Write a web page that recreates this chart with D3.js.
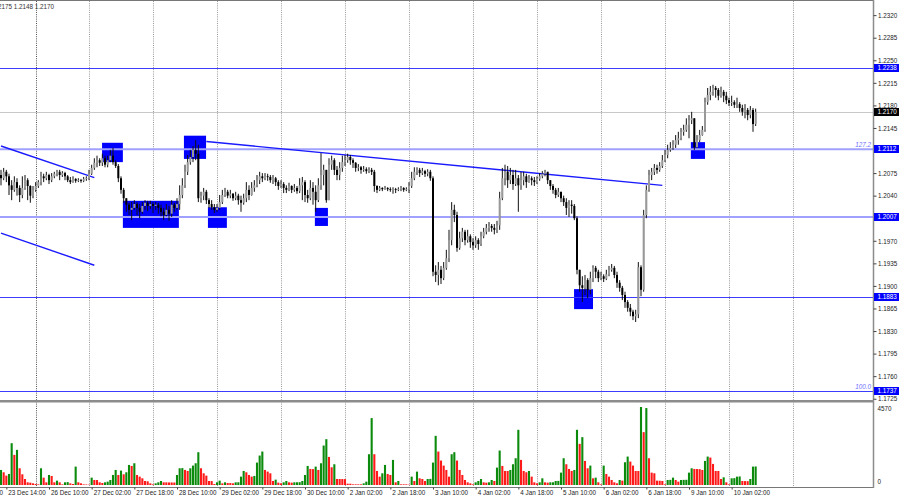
<!DOCTYPE html>
<html>
<head>
<meta charset="utf-8">
<script src="https://cdn.jsdelivr.net/npm/d3@7"></script>
<style>
  body { margin: 0; background: #fff; }
  svg { display: block; }
  text { font-family: "Liberation Sans", Arial, sans-serif; font-size: 6.3px; fill: #222; }
</style>
</head>
<body>
<svg id="chart" width="900" height="500"></svg>
<script>
// H1 candles, prices in points (x 1/10000), open = previous close
var firstOpen = 12072;
var closes = [
  12067,12077,12070,12056,12049,12061,12052,12041,12052,12064,
  12055,12040,12049,12055,12061,12070,12067,12072,12064,12070,
  12074,12077,12072,12075,12070,12064,12061,12066,12063,12064,
  12063,12066,12067,12074,12083,12091,12095,12091,12098,12088,
  12095,12102,12092,12086,12067,12049,12036,12026,12018,12021,
  12027,12021,12015,12024,12029,12024,12027,12024,12026,12021,
  12015,12010,12018,12012,12026,12021,12027,12041,12056,12077,
  12092,12100,12111,12105,12036,12040,12046,12033,12027,12022,
  12018,12021,12030,12041,12046,12040,12043,12036,12040,12033,
  12029,12036,12049,12041,12052,12056,12064,12070,12067,12070,
  12069,12064,12067,12061,12055,12058,12052,12049,12055,12049,
  12052,12047,12056,12061,12041,12036,12052,12046,12033,12056,
  12072,12080,12033,12088,12095,12080,12072,12083,12092,12095,
  12100,12095,12091,12083,12084,12080,12081,12078,12080,12077,
  12055,12049,12052,12050,12052,12050,12049,12050,12049,12050,
  12052,12049,12050,12055,12067,12077,12080,12075,12078,12074,
  12077,12067,11922,11917,11925,11912,11928,11943,11971,12018,
  12010,11959,11974,11984,11971,11977,11968,11963,11971,11965,
  11977,11984,11990,11993,11990,11987,11994,12036,12067,12077,
  12064,12072,12058,12067,12056,12064,12070,12061,12067,12064,
  12061,12066,12070,12074,12077,12064,12055,12049,12041,12046,
  12036,12030,12021,12026,12024,12005,11925,11901,11897,11909,
  11894,11912,11928,11922,11912,11915,11911,11918,11925,11928,
  11917,11905,11897,11886,11875,11866,11860,11853,11856,11929,
  11894,12010,12049,12072,12077,12083,12080,12086,12095,12103,
  12111,12114,12119,12126,12129,12139,12142,12150,12157,12160,
  12115,12126,12134,12142,12185,12196,12201,12207,12204,12195,
  12201,12195,12188,12184,12185,12181,12182,12176,12170,12173,
  12165,12173,12151,12170
];
var highs = [
  12080,12083,12080,12074,12064,12070,12067,12056,12070,12072,
  12067,12056,12055,12061,12064,12077,12074,12077,12074,12075,
  12077,12080,12080,12078,12077,12072,12069,12070,12067,12067,
  12066,12069,12070,12080,12088,12098,12102,12098,12105,12102,
  12102,12111,12114,12095,12089,12070,12052,12036,12029,12030,
  12033,12030,12027,12030,12033,12032,12032,12030,12030,12029,
  12026,12021,12027,12024,12033,12029,12036,12056,12067,12088,
  12103,12111,12117,12126,12119,12046,12052,12049,12036,12033,
  12027,12027,12041,12049,12052,12049,12049,12044,12046,12043,
  12040,12043,12061,12056,12061,12064,12072,12077,12075,12075,
  12074,12072,12072,12069,12064,12064,12061,12056,12060,12056,
  12058,12055,12067,12069,12064,12049,12064,12061,12056,12067,
  12106,12088,12080,12098,12102,12098,12086,12092,12102,12103,
  12105,12103,12098,12092,12089,12086,12086,12084,12084,12083,
  12080,12056,12055,12053,12055,12053,12053,12053,12052,12053,
  12055,12053,12053,12061,12077,12084,12084,12083,12083,12080,
  12081,12080,12070,11932,11937,11931,11937,11956,11987,12030,
  12026,12015,11984,11990,11987,11987,11980,11974,11977,11974,
  11984,11990,11996,11999,11996,11996,12001,12046,12083,12088,
  12086,12083,12080,12080,12072,12077,12077,12074,12072,12070,
  12069,12070,12075,12078,12080,12077,12064,12058,12052,12052,
  12046,12040,12036,12033,12033,12027,12008,11925,11915,11917,
  11912,11922,11932,11931,11925,11922,11918,11925,11931,11934,
  11931,11922,11909,11900,11891,11878,11872,11863,11863,11937,
  11932,12018,12056,12080,12083,12089,12088,12092,12103,12111,
  12119,12123,12126,12134,12139,12145,12150,12160,12165,12170,
  12160,12134,12142,12148,12192,12207,12210,12212,12210,12207,
  12209,12204,12201,12192,12195,12188,12192,12185,12181,12182,
  12176,12179,12176,12175
];
var lows = [
  12056,12064,12061,12041,12033,12046,12040,12030,12036,12049,
  12033,12029,12036,12046,12052,12056,12061,12064,12058,12061,
  12067,12070,12064,12069,12064,12061,12058,12060,12060,12061,
  12060,12061,12063,12064,12072,12080,12084,12086,12086,12084,
  12084,12092,12088,12083,12061,12043,12029,12015,12010,12002,
  12018,12010,12005,12012,12018,12016,12019,12013,12018,12012,
  12008,12002,12008,12001,12007,12015,12018,12018,12036,12052,
  12072,12088,12092,12095,12030,12029,12033,12027,12021,12018,
  12013,12015,12018,12027,12038,12036,12036,12032,12033,12026,
  12015,12026,12030,12033,12040,12046,12053,12058,12061,12064,
  12063,12060,12058,12055,12049,12052,12044,12044,12047,12044,
  12046,12043,12044,12033,12030,12029,12033,12026,12015,12030,
  12049,12056,12029,12033,12080,12072,12064,12064,12077,12086,
  12091,12088,12083,12077,12078,12074,12077,12074,12075,12072,
  12046,12044,12047,12047,12049,12047,12046,12043,12044,12047,
  12047,12046,12047,12044,12052,12064,12072,12069,12072,12069,
  12070,12063,11915,11906,11901,11903,11909,11925,11937,11963,
  11999,11953,11956,11968,11963,11967,11959,11956,11959,11956,
  11962,11974,11980,11984,11984,11980,11982,11987,12033,12056,
  12052,12058,12049,12055,12015,12049,12056,12052,12060,12056,
  12055,12058,12063,12067,12070,12058,12049,12043,12036,12038,
  12030,12024,12010,12007,12012,12002,11918,11891,11875,11886,
  11881,11887,11906,11912,11906,11909,11906,11909,11915,11922,
  11912,11897,11891,11878,11866,11860,11853,11847,11844,11850,
  11884,11891,12005,12046,12064,12072,12074,12077,12083,12092,
  12098,12108,12111,12114,12119,12126,12133,12139,12129,12151,
  12111,12114,12123,12133,12139,12181,12188,12195,12192,12188,
  12192,12185,12182,12179,12179,12176,12176,12170,12164,12160,
  12157,12160,12139,12148
];
var volumes = [
  882,745,549,647,2450,1764,2058,980,627,353,
  157,137,98,59,40,980,431,157,588,529,
  157,255,157,39,157,170,98,59,1078,157,
  98,39,30,20,431,294,290,157,118,157,
  196,294,588,882,588,843,627,745,1176,1117,
  1274,588,490,392,235,215,98,39,98,157,
  235,157,155,150,150,145,588,980,990,882,
  823,980,1137,1274,1921,980,686,549,235,230,
  59,157,255,98,157,118,115,98,157,160,
  490,823,745,588,490,529,1313,1725,1960,882,
  784,686,235,314,137,98,157,235,157,137,
  157,160,165,235,588,1117,941,930,1078,882,
  1274,2313,2685,1646,1039,1215,353,350,350,345,
  78,75,39,39,39,39,98,196,1803,3920,
  1803,823,490,686,1176,647,588,1470,157,235,
  39,39,39,20,490,235,784,392,353,235,
  353,360,1313,2881,1960,1431,1137,882,490,1803,
  1921,1431,882,588,294,157,98,39,157,235,
  353,157,137,157,294,235,1019,2019,1117,823,
  820,882,1215,1568,3234,1470,823,745,823,490,
  157,98,157,392,157,137,157,160,235,240,
  725,1568,1215,941,823,882,3234,2411,2803,1411,
  980,1137,392,431,157,39,1137,647,490,294,
  157,98,294,255,1333,1666,1372,1137,823,820,
  4570,3097,4508,1568,725,686,255,250,235,39,
  294,300,431,294,196,294,300,305,725,980,
  941,935,930,882,1411,1666,1607,1235,823,820,
  353,451,157,39,392,400,490,500,235,230,
  225,353,1078,1085
];

// time axis: bar index of each label
var timeBars = [-14, 2, 18, 34, 50, 66, 82, 98, 114, 130, 146, 162, 178, 194, 210, 226, 242, 258, 274];
var timeLabels = ["22 Dec 22:00", "23 Dec 14:00", "26 Dec 10:00", "27 Dec 02:00", "27 Dec 18:00",
  "28 Dec 10:00", "29 Dec 02:00", "29 Dec 18:00", "30 Dec 10:00", "2 Jan 02:00", "2 Jan 18:00",
  "3 Jan 10:00", "4 Jan 02:00", "4 Jan 18:00", "5 Jan 10:00", "6 Jan 02:00", "6 Jan 18:00",
  "9 Jan 10:00", "10 Jan 02:00"];
var separatorBars = [13, 33, 57, 81, 105, 129, 153, 177, 201, 225, 249, 273, 297];

// 1.2110 and 1.2005 sit under the level boxes, so they are left out
var priceTicks = [1.2320, 1.2285, 1.2250, 1.2215, 1.2180, 1.2145, 1.2075, 1.2040,
  1.1970, 1.1935, 1.1900, 1.1865, 1.1830, 1.1795, 1.1760, 1.1725];
var volumeTicks = [4570, 0];

var levels = [1.2238, 1.1883, 1.1737];     // plain horizontal lines
var fibLevels = [1.2112, 1.2007];          // light wide lines
var levelNotes = [[1.2112, "127.2"], [1.1737, "100.0"]];
var lastPrice = 1.2170;
var headerText = "1.2151 1.2175 1.2148 1.2170";

// trend lines: [bar0, price0, bar1, price1]
var trendLines = [
  [0, 1.2117, 35, 1.2068],
  [0, 1.1982, 35, 1.1932],
  [77, 1.2124, 248, 1.2056]
];
// marked zones: [bar0, bar1, priceTop, priceBottom]
var zones = [
  [37.9, 45.7, 1.2122, 1.2092],
  [68.6, 76.9, 1.2133, 1.2097],
  [45.7, 66.7, 1.2032, 1.1990],
  [77.6, 84.7, 1.2022, 1.1990],
  [117.7, 122.6, 1.2021, 1.1993],
  [214.9, 222.0, 1.1895, 1.1864],
  [258.7, 264.0, 1.2123, 1.2097]
];

var plotRight = 873;
var mainBottom = 400;
var volTop = 403, volBottom = 487;

var svg = d3.select("#chart");

var x = d3.scaleLinear().domain([0, 300]).range([1, 801]);
var y = d3.scaleLinear().domain([1.1737, 1.2238]).range([391, 68]);
var yv = d3.scaleLinear().domain([0, 4570]).range([485, 407]);

var bars = closes.map(function(c, i) {
    var o = i === 0 ? firstOpen : closes[i - 1];
    return {
        i: i,
        o: o / 10000,
        c: c / 10000,
        h: Math.max(highs[i], o, c) / 10000,
        l: Math.min(lows[i], o, c) / 10000,
        v: volumes[i],
        up: i === 0 ? true : volumes[i] > volumes[i - 1]
    };
});

var defs = svg.append("defs");
defs.append("clipPath").attr("id", "mainClip")
    .append("rect").attr("x", 0).attr("y", 0).attr("width", plotRight).attr("height", mainBottom);
defs.append("clipPath").attr("id", "volClip")
    .append("rect").attr("x", 0).attr("y", volTop).attr("width", plotRight).attr("height", volBottom - volTop);

// period separators (dotted verticals)
svg.append("g").selectAll("line")
    .data(separatorBars)
    .enter().append("line")
    .attr("x1", d => Math.round(x(d)) + 0.5)
    .attr("x2", d => Math.round(x(d)) + 0.5)
    .attr("y1", 1)
    .attr("y2", volBottom)
    .attr("stroke", (d, i) => i === 0 ? "#555" : "#9a9a9a")
    .attr("stroke-width", 1)
    .attr("stroke-dasharray", "1,1.2");

var main = svg.append("g").attr("clip-path", "url(#mainClip)");

// current price line
main.append("line")
    .attr("x1", 0).attr("x2", plotRight)
    .attr("y1", Math.round(y(lastPrice)) + 0.5).attr("y2", Math.round(y(lastPrice)) + 0.5)
    .attr("stroke", "#c8c8c8");

// zones
main.selectAll(".zone")
    .data(zones)
    .enter().append("rect")
    .attr("class", "zone")
    .attr("x", d => x(d[0]))
    .attr("width", d => x(d[1]) - x(d[0]))
    .attr("y", d => y(d[2]))
    .attr("height", d => y(d[3]) - y(d[2]))
    .attr("fill", "#0000ff");

// horizontal levels
main.selectAll(".fib")
    .data(fibLevels)
    .enter().append("line")
    .attr("class", "fib")
    .attr("x1", 0).attr("x2", plotRight)
    .attr("y1", d => y(d)).attr("y2", d => y(d))
    .attr("stroke", "#a0a0ff")
    .attr("stroke-width", 2);

main.selectAll(".lvl")
    .data(levels)
    .enter().append("line")
    .attr("class", "lvl")
    .attr("x1", 0).attr("x2", plotRight)
    .attr("y1", d => Math.round(y(d)) + 0.5).attr("y2", d => Math.round(y(d)) + 0.5)
    .attr("stroke", "#3c3cff")
    .attr("stroke-width", 1);

main.selectAll(".note")
    .data(levelNotes)
    .enter().append("text")
    .attr("class", "note")
    .attr("x", 871)
    .attr("y", d => y(d[0]) - 2.5)
    .attr("text-anchor", "end")
    .style("fill", "#7070ff")
    .style("font-style", "italic")
    .text(d => d[1]);

// trend lines
main.selectAll(".trend")
    .data(trendLines)
    .enter().append("line")
    .attr("class", "trend")
    .attr("x1", d => x(d[0])).attr("y1", d => y(d[1]))
    .attr("x2", d => x(d[2])).attr("y2", d => y(d[3]))
    .attr("stroke", "#1a1aff")
    .attr("stroke-width", 1.4);

// candles
var candle = main.selectAll(".candle")
    .data(bars)
    .enter().append("g")
    .attr("class", "candle");

candle.append("line")
    .attr("x1", d => x(d.i)).attr("x2", d => x(d.i))
    .attr("y1", d => y(d.h)).attr("y2", d => y(d.l))
    .attr("stroke", "#111")
    .attr("stroke-width", 1);

candle.append("rect")
    .attr("x", d => x(d.i) - 1)
    .attr("width", 2)
    .attr("y", d => y(Math.max(d.o, d.c)))
    .attr("height", d => Math.max(0.8, Math.abs(y(d.o) - y(d.c))))
    .attr("fill", d => d.c >= d.o ? "#999" : "#000");

// volumes
var vol = svg.append("g").attr("clip-path", "url(#volClip)");
vol.selectAll("rect")
    .data(bars)
    .enter().append("rect")
    .attr("x", d => x(d.i) - 1.05)
    .attr("width", 2.1)
    .attr("y", d => yv(d.v))
    .attr("height", d => yv(0) - yv(d.v))
    .attr("fill", d => d.up ? "#0b8a0b" : "#ff1a1a");

// frame
svg.append("line").attr("x1", 0).attr("x2", plotRight).attr("y1", 0.5).attr("y2", 0.5)
    .attr("stroke", "#777");
svg.append("rect").attr("x", 0).attr("y", mainBottom).attr("width", plotRight).attr("height", 2.5)
    .attr("fill", "#8c8c8c");
svg.append("line").attr("x1", 0).attr("x2", plotRight + 1).attr("y1", volBottom + 0.5).attr("y2", volBottom + 0.5)
    .attr("stroke", "#777");
svg.append("line").attr("x1", plotRight + 0.5).attr("x2", plotRight + 0.5).attr("y1", 0).attr("y2", volBottom + 1)
    .attr("stroke", "#8c8c8c").attr("stroke-width", 1.5);

// price axis
var priceAxis = svg.append("g")
    .attr("transform", "translate(" + (plotRight + 0.5) + ",0)")
    .call(d3.axisRight(y).tickValues(priceTicks).tickFormat(d3.format(".4f")).tickSize(3).tickPadding(1.5));
priceAxis.select(".domain").remove();
priceAxis.selectAll("line").attr("stroke", "#444");
priceAxis.selectAll("text").attr("font-size", null).attr("font-family", null).attr("dy", "0.35em");

// volume axis
var volAxis = svg.append("g")
    .attr("transform", "translate(" + (plotRight + 0.5) + ",0)")
    .call(d3.axisRight(yv).tickValues(volumeTicks).tickFormat(d3.format("d")).tickSize(0).tickPadding(4));
volAxis.select(".domain").remove();
volAxis.selectAll("text").attr("font-size", null).attr("font-family", null)
    .attr("dy", (d) => d === 0 ? "-0.3em" : "0.6em");

// value boxes on the price axis
var boxes = levels.concat(fibLevels).map(p => [p, "#0000ff"]).concat([[lastPrice, "#000"]]);
var box = svg.append("g").selectAll("g")
    .data(boxes)
    .enter().append("g")
    .attr("transform", d => "translate(" + (plotRight + 1) + "," + Math.round(y(d[0])) + ")");
box.append("rect")
    .attr("x", 0).attr("y", -4).attr("width", 25).attr("height", 8)
    .attr("fill", d => d[1]);
box.append("text")
    .attr("x", 3.5).attr("y", 2.3)
    .style("fill", "#fff")
    .text(d => d3.format(".4f")(d[0]));

// time axis
var timeAxis = svg.append("g")
    .attr("transform", "translate(0," + (volBottom + 0.5) + ")")
    .call(d3.axisBottom(x).tickValues(timeBars).tickFormat((d, i) => timeLabels[i]).tickSize(2).tickPadding(1.5));
timeAxis.select(".domain").remove();
timeAxis.selectAll("line").attr("stroke", "#444");
timeAxis.selectAll("text").attr("font-size", null).attr("font-family", null)
    .attr("text-anchor", "start").attr("dx", 1.5);

// header
svg.append("text")
    .attr("x", 54).attr("y", 8.5)
    .attr("text-anchor", "end")
    .style("fill", "#333")
    .text(headerText);
</script>
</body>
</html>
